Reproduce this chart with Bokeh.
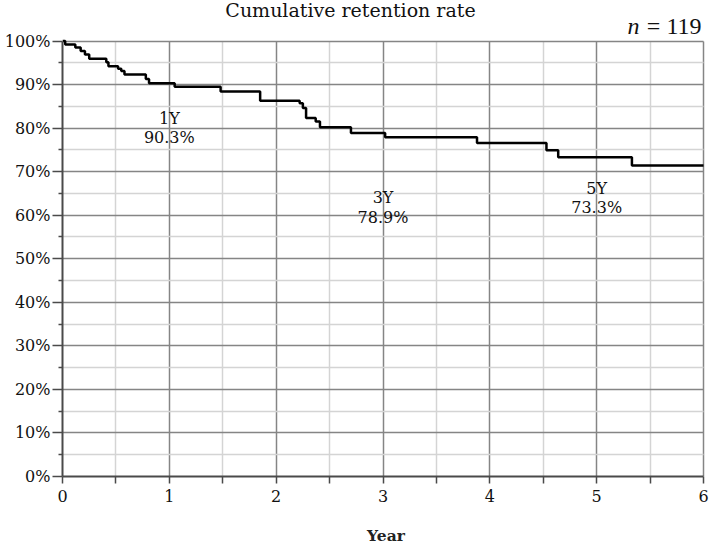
from bokeh.plotting import figure
from bokeh.models import FixedTicker, Label, ColumnDataSource, Grid
from bokeh.embed import file_html
from bokeh.resources import INLINE
from bokeh.core.properties import value

# ---- data ----
years = [0, 0.025, 0.12, 0.17, 0.21, 0.25, 0.41, 0.43, 0.52, 0.55, 0.58, 0.78, 0.81,
         1.05, 1.48, 1.85, 2.22, 2.25, 2.28, 2.37, 2.41, 2.70, 3.02, 3.88, 4.53, 4.64,
         5.33, 6.0]
retention = [100, 99.2, 98.5, 97.7, 96.9, 95.9, 95.1, 94.2, 93.6, 93.1, 92.3, 91.3, 90.3,
             89.5, 88.4, 86.3, 85.7, 84.6, 82.3, 81.5, 80.2, 78.9, 77.9, 76.6, 74.9, 73.3,
             71.4, 71.4]

milestone_years = [1, 3, 5]
milestone_names = ["1Y", "3Y", "5Y"]
milestone_rates = [90.3, 78.9, 73.3]

x_ticks = [0, 1, 2, 3, 4, 5, 6]
x_minor = [0.5, 1.5, 2.5, 3.5, 4.5, 5.5]
y_ticks = [0, 10, 20, 30, 40, 50, 60, 70, 80, 90, 100]
y_minor = [5, 15, 25, 35, 45, 55, 65, 75, 85, 95]
y_tick_labels = {t: f"{t}%" for t in y_ticks}

title_text = "Cumulative retention rate"
n_symbol = "n"
n_text = "= 119"

# ---- layout (pixels) ----
W, H = 709, 548
PLOT_L, PLOT_R, PLOT_T, PLOT_B = 62, 703, 40.5, 476   # where x 0..6 and y 0..100 lie
FB = H - PLOT_B
X0, X1 = 0, 6
Y0, Y1 = 0, 100
xpx = (PLOT_R - PLOT_L) / (X1 - X0)
ypx = (PLOT_B - PLOT_T) / (Y1 - Y0)
x_end = X1 + (W - PLOT_R) / xpx
y_end = Y1 + PLOT_T / ypx

FONT = "DejaVu Serif"
MAJOR = "#858585"
MINOR = "#d4d4d4"
AXIS = "#4a4a4a"

p = figure(width=W, height=H, x_range=(X0, x_end), y_range=(Y0, y_end),
           output_backend="svg", toolbar_location=None,
           min_border_left=PLOT_L, min_border_right=0, min_border_top=0, min_border_bottom=FB)
p.title = None
p.background_fill_color = "white"
p.border_fill_color = "white"
p.outline_line_color = None

p.xaxis.ticker = FixedTicker(ticks=x_ticks, minor_ticks=x_minor)
p.yaxis.ticker = FixedTicker(ticks=y_ticks, minor_ticks=y_minor)
p.yaxis.major_label_overrides = y_tick_labels
p.xaxis.bounds = (X0, X1)
p.yaxis.bounds = (Y0, Y1)

for ax in (p.xaxis[0], p.yaxis[0]):
    ax.axis_line_color = AXIS
    ax.axis_line_width = 2
    ax.major_tick_line_color = AXIS
    ax.minor_tick_line_color = AXIS
    ax.major_tick_line_width = 1.5
    ax.minor_tick_line_width = 1.5
    ax.major_tick_in = 0
    ax.minor_tick_in = 0
    ax.major_label_text_font = FONT
    ax.major_label_text_font_size = "16px"
    ax.major_label_text_color = "#111111"

p.xaxis.major_tick_out = 7
p.xaxis.minor_tick_out = 7
p.xaxis.major_label_standoff = 6
p.xaxis.axis_label = "Year"
p.xaxis.axis_label_text_font = FONT
p.xaxis.axis_label_text_font_style = "bold"
p.xaxis.axis_label_text_font_size = "15.5px"
p.xaxis.axis_label_text_color = "#222222"
p.xaxis.axis_label_standoff = 21

p.yaxis.major_tick_out = 10
p.yaxis.minor_tick_out = 4
p.yaxis.major_label_standoff = 2

p.xgrid.ticker = FixedTicker(ticks=x_ticks, minor_ticks=x_minor)
p.ygrid.ticker = FixedTicker(ticks=y_ticks, minor_ticks=y_minor)
for g in (p.xgrid[0], p.ygrid[0]):
    g.grid_line_color = MAJOR
    g.grid_line_width = 1.5
    g.minor_grid_line_color = MINOR
    g.minor_grid_line_width = 1.5
if "cross_bounds" in Grid.properties():
    p.xgrid[0].cross_bounds = (Y0, Y1)
    p.ygrid[0].cross_bounds = (X0, X1)

p.step(years, retention, mode="after", line_color="black", line_width=2.5)

# milestone annotations (two lines each)
name_y = [82.2, 64.0, 66.1]
rate_y = [77.8, 59.4, 61.7]
src = ColumnDataSource(dict(
    x=milestone_years + milestone_years,
    y=name_y + rate_y,
    t=milestone_names + [f"{r}%" for r in milestone_rates],
))
p.text(x="x", y="y", text="t", source=src, text_align="center", text_baseline="middle",
       text_font=value(FONT), text_font_size="16px", text_color="#111111")

# screen units are relative to the frame: x from its left, y up from its bottom
def fx(px):
    return px - PLOT_L

def fy(py):
    return PLOT_B - py

p.add_layout(Label(x=fx(350), y=fy(9), x_units="screen", y_units="screen", text=title_text,
                   text_align="center", text_baseline="middle", text_font=FONT,
                   text_font_size="19px", text_color="#111111"))
p.add_layout(Label(x=fx(701), y=fy(25), x_units="screen", y_units="screen", text=n_text,
                   text_align="right", text_baseline="middle", text_font="Liberation Serif",
                   text_font_size="24px", text_color="#111111"))
p.add_layout(Label(x=fx(639), y=fy(25), x_units="screen", y_units="screen", text=n_symbol,
                   text_align="right", text_baseline="middle", text_font="Liberation Serif",
                   text_font_style="italic", text_font_size="24px", text_color="#111111"))

open("out.html", "w").write(file_html(p, INLINE))
